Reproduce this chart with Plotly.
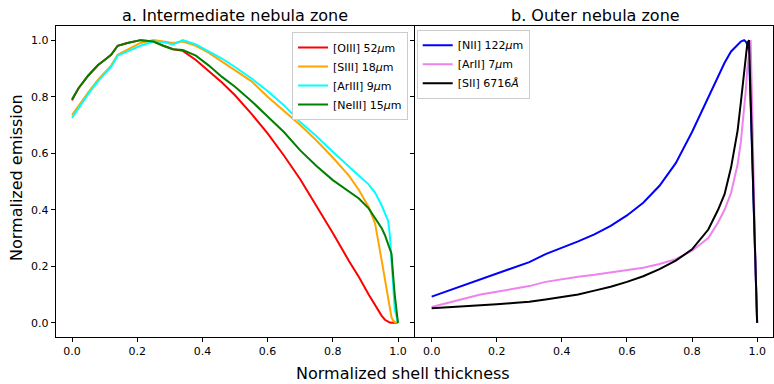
import plotly.graph_objects as go

# ---------------- data ----------------
x_left = [0, 0.02, 0.05, 0.08, 0.10, 0.12, 0.14, 0.17, 0.21, 0.25, 0.28, 0.31, 0.34, 0.38,
          0.42, 0.46, 0.50, 0.55, 0.60, 0.65, 0.70, 0.75, 0.80, 0.85, 0.88, 0.91, 0.93,
          0.95, 0.96, 0.97, 0.975, 0.98, 0.985, 0.99, 1.0]

oiii_52 = [0.787, 0.83, 0.875, 0.912, 0.93, 0.948, 0.98, 0.99, 1.0, 0.995, 0.98, 0.968, 0.962, 0.93,
           0.89, 0.85, 0.805, 0.74, 0.67, 0.592, 0.508, 0.415, 0.318, 0.218, 0.162, 0.1, 0.06,
           0.025, 0.011, 0.003, 0.001, 0.0, 0.0, 0.0, 0.0]
siii_18 = [0.735, 0.768, 0.815, 0.86, 0.885, 0.91, 0.948, 0.965, 0.99, 1.0, 0.995, 0.99, 0.995, 0.98,
           0.955, 0.925, 0.895, 0.855, 0.80, 0.75, 0.70, 0.645, 0.585, 0.52, 0.47, 0.41, 0.35,
           0.22, 0.15, 0.08, 0.045, 0.02, 0.008, 0.003, 0.0]
ariii_9 = [0.725, 0.76, 0.81, 0.855, 0.88, 0.905, 0.945, 0.96, 0.98, 0.995, 0.993, 0.985, 1.0, 0.985,
           0.96, 0.935, 0.905, 0.865, 0.82, 0.77, 0.71, 0.66, 0.605, 0.55, 0.52, 0.49, 0.46,
           0.415, 0.39, 0.36, 0.31, 0.22, 0.13, 0.05, 0.0]
neiii_15 = [0.791, 0.83, 0.875, 0.912, 0.93, 0.948, 0.98, 0.99, 1.0, 0.995, 0.98, 0.968, 0.965, 0.945,
            0.91, 0.87, 0.835, 0.785, 0.73, 0.675, 0.61, 0.555, 0.505, 0.465, 0.44, 0.405, 0.37,
            0.335, 0.31, 0.28, 0.265, 0.245, 0.17, 0.10, 0.0]

x_right = [0, 0.05, 0.1, 0.15, 0.2, 0.25, 0.3, 0.35, 0.4, 0.45, 0.5, 0.55, 0.6, 0.65, 0.7, 0.75,
           0.8, 0.85, 0.88, 0.9, 0.92, 0.94, 0.95, 0.96, 0.965, 0.97, 0.975, 0.98, 0.985, 0.99,
           0.995, 1.0]

nii_122 = [0.093, 0.113, 0.133, 0.155, 0.175, 0.195, 0.215, 0.243, 0.265, 0.288, 0.313, 0.343, 0.38,
           0.425, 0.485, 0.565, 0.675, 0.80, 0.875, 0.92, 0.96, 0.985, 0.995, 1.0, 0.995, 0.985,
           0.96, 0.78, 0.57, 0.37, 0.17, 0.0]
arii_7 = [0.056, 0.07, 0.085, 0.10, 0.11, 0.12, 0.13, 0.145, 0.155, 0.163, 0.17, 0.178, 0.186,
          0.195, 0.208, 0.225, 0.255, 0.30, 0.355, 0.40, 0.46, 0.56, 0.64, 0.75, 0.82, 0.90,
          0.96, 1.0, 0.75, 0.45, 0.2, 0.0]
sii_6716 = [0.052, 0.055, 0.058, 0.062, 0.066, 0.07, 0.075, 0.083, 0.091, 0.10, 0.114, 0.128, 0.145,
            0.165, 0.19, 0.22, 0.26, 0.33, 0.40, 0.455, 0.55, 0.68, 0.78, 0.89, 0.95, 0.99,
            1.0, 0.80, 0.60, 0.40, 0.20, 0.0]

left_names = ["[OIII] 52<i>μ</i>m", "[SIII] 18<i>μ</i>m", "[ArIII] 9<i>μ</i>m", "[NeIII] 15<i>μ</i>m"]
left_colors = ["red", "orange", "cyan", "green"]
right_names = ["[NII] 122<i>μ</i>m", "[ArII] 7<i>μ</i>m", "[SII] 6716<i>Å</i>"]
right_colors = ["blue", "violet", "black"]
tick_vals = [0.0, 0.2, 0.4, 0.6, 0.8, 1.0]
tick_text = ["0.0", "0.2", "0.4", "0.6", "0.8", "1.0"]

# ---------------- figure ----------------
W, H = 774, 384
FONT = "DejaVu Sans"
fig = go.Figure()

for name, ys, col in zip(left_names, [oiii_52, siii_18, ariii_9, neiii_15], left_colors):
    fig.add_trace(go.Scatter(x=x_left, y=ys, mode="lines", name=name,
                             line=dict(color=col, width=2), xaxis="x", yaxis="y",
                             legend="legend"))
for name, ys, col in zip(right_names, [nii_122, arii_7, sii_6716], right_colors):
    fig.add_trace(go.Scatter(x=x_right, y=ys, mode="lines", name=name,
                             line=dict(color=col, width=2), xaxis="x2", yaxis="y2",
                             legend="legend2"))

ydom = [1 - 337 / H, 1 - 26 / H]
axis_common = dict(showline=True, linecolor="black", linewidth=1, mirror=True,
                   ticks="outside", ticklen=4, tickwidth=1, tickcolor="black",
                   showgrid=False, zeroline=False, range=[-0.05, 1.05],
                   tickvals=tick_vals, ticktext=tick_text,
                   tickfont=dict(family=FONT, size=11, color="black"))

fig.update_layout(
    width=W, height=H, margin=dict(l=0, r=0, t=0, b=0),
    paper_bgcolor="white", plot_bgcolor="white",
    font=dict(family=FONT, color="black"),
    xaxis=dict(domain=[55.7 / W, 414.3 / W], anchor="y", **axis_common),
    yaxis=dict(domain=ydom, anchor="x", **axis_common),
    xaxis2=dict(domain=[415.4 / W, 773.4 / W], anchor="y2", **axis_common),
    yaxis2=dict(domain=ydom, anchor="x2", showticklabels=False, **axis_common),
    legend=dict(x=408 / W, y=1 - 32 / H, xanchor="right", yanchor="top",
                bgcolor="white", bordercolor="#cccccc", borderwidth=1,
                font=dict(family=FONT, size=11, color="black"), itemwidth=30),
    legend2=dict(x=416.7 / W, y=1 - 29.7 / H, xanchor="left", yanchor="top",
                 bgcolor="white", bordercolor="#cccccc", borderwidth=1,
                 font=dict(family=FONT, size=11, color="black"), itemwidth=30),
    annotations=[
        dict(text="a. Intermediate nebula zone", x=235 / W, y=1 - 15 / H, xref="paper", yref="paper",
             xanchor="center", yanchor="middle", showarrow=False,
             font=dict(family=FONT, size=16, color="black")),
        dict(text="b. Outer nebula zone", x=595 / W, y=1 - 15 / H, xref="paper", yref="paper",
             xanchor="center", yanchor="middle", showarrow=False,
             font=dict(family=FONT, size=16, color="black")),
        dict(text="Normalized shell thickness", x=403 / W, y=1 - 373 / H, xref="paper", yref="paper",
             xanchor="center", yanchor="middle", showarrow=False,
             font=dict(family=FONT, size=16, color="black")),
        dict(text="Normalized emission", x=16 / W, y=1 - 178 / H, xref="paper", yref="paper",
             xanchor="center", yanchor="middle", showarrow=False, textangle=-90,
             font=dict(family=FONT, size=16, color="black")),
    ],
)

fig.write_html("out.html", config={"displayModeBar": False},
               post_script="document.body.style.margin='0';document.body.style.overflow='hidden';")
